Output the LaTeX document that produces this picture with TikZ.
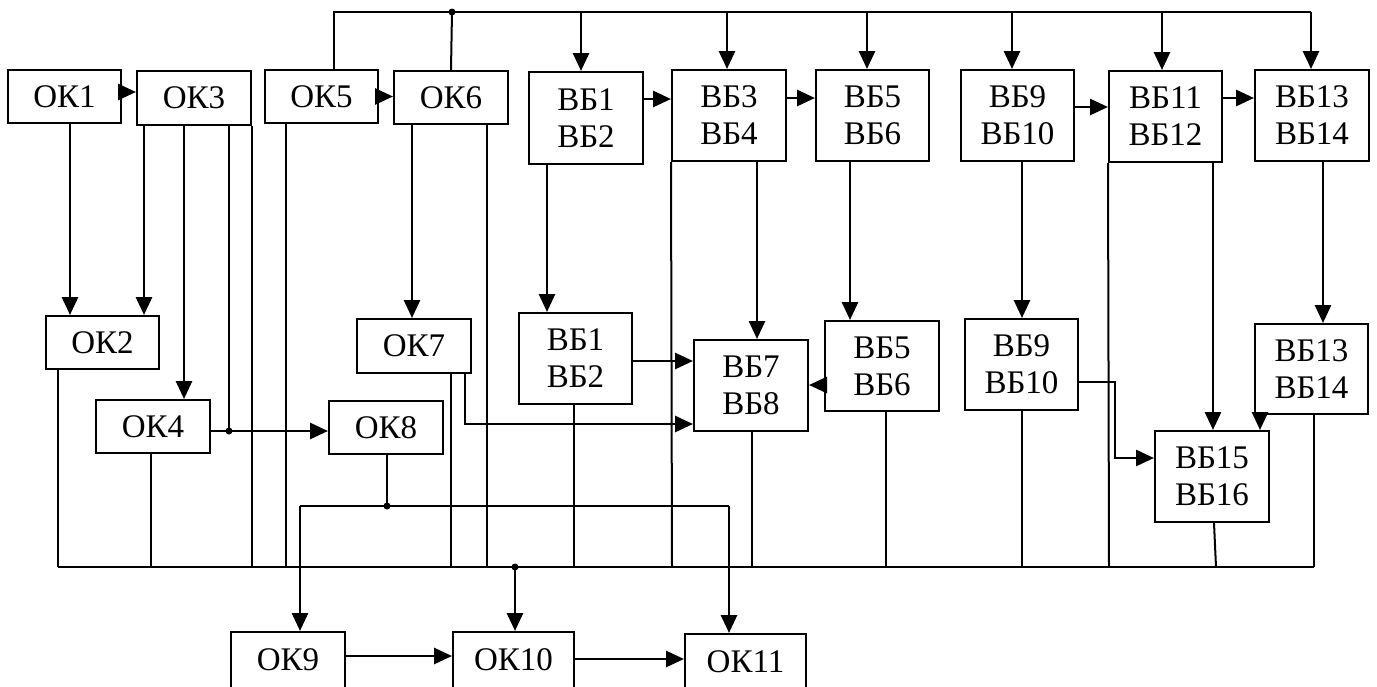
\documentclass[tikz,border=0pt]{standalone}
\usepackage{fontspec}
\setmainfont{Liberation Serif}
\usetikzlibrary{arrows.meta}
\tikzset{
  blk/.style={draw, line width=2pt, inner sep=0pt, align=center,
    font=\rmfamily\fontsize{33}{37}\selectfont},
  wire/.style={line width=2pt},
  arr/.style={line width=2.8pt, -{Triangle[length=18pt,width=16pt]}},
  jdot/.style={circle, fill, inner sep=0pt, minimum size=7pt}
}
\begin{document}
\begin{tikzpicture}[x=1pt,y=-1pt]
\useasboundingbox (0,0) rectangle (1377,686);
\clip (0,0) rectangle (1377,686);
% top row
\node[blk, minimum width=113pt, minimum height=53pt] (ok1) at (64.5,96.5) {ОК1};
\node[blk, minimum width=114pt, minimum height=54pt] (ok3) at (194,98) {ОК3};
\node[blk, minimum width=113pt, minimum height=53pt] (ok5) at (321.5,96.5) {ОК5};
\node[blk, minimum width=114pt, minimum height=53pt] (ok6) at (451,97.5) {ОК6};
\node[blk, minimum width=114pt, minimum height=92pt] (bb1) at (586,118) {ВБ1\\ВБ2};
\node[blk, minimum width=114pt, minimum height=91pt] (bb3) at (729,115.5) {ВБ3\\ВБ4};
\node[blk, minimum width=113pt, minimum height=91pt] (bb5) at (872.5,115.5) {ВБ5\\ВБ6};
\node[blk, minimum width=113pt, minimum height=91pt] (bb9) at (1017.5,115.5) {ВБ9\\ВБ10};
\node[blk, minimum width=113pt, minimum height=91pt] (bb11) at (1165.5,116.5) {ВБ11\\ВБ12};
\node[blk, minimum width=114pt, minimum height=91pt] (bb13) at (1312,115.5) {ВБ13\\ВБ14};
% middle row
\node[blk, minimum width=113pt, minimum height=53pt] (ok2) at (102.5,342.5) {ОК2};
\node[blk, minimum width=114pt, minimum height=53pt] (ok4) at (153,426.5) {ОК4};
\node[blk, minimum width=114pt, minimum height=54pt] (ok7) at (414,346) {ОК7};
\node[blk, minimum width=114pt, minimum height=53pt] (ok8) at (386,427.5) {ОК8};
\node[blk, minimum width=113pt, minimum height=91pt] (bb1b) at (575.5,358.5) {ВБ1\\ВБ2};
\node[blk, minimum width=114pt, minimum height=91pt] (bb7) at (751,385.5) {ВБ7\\ВБ8};
\node[blk, minimum width=114pt, minimum height=90pt] (bb5b) at (882,366) {ВБ5\\ВБ6};
\node[blk, minimum width=113pt, minimum height=91pt] (bb9b) at (1021.5,364.5) {ВБ9\\ВБ10};
\node[blk, minimum width=113pt, minimum height=90pt] (bb13b) at (1311.5,369) {ВБ13\\ВБ14};
\node[blk, minimum width=114pt, minimum height=91pt] (bb15) at (1212,476.5) {ВБ15\\ВБ16};
% bottom row
\node[blk, minimum width=114pt, minimum height=56pt] (ok9) at (288,660) {ОК9};
\node[blk, minimum width=121pt, minimum height=56pt] (ok10) at (513.5,660) {ОК10};
\node[blk, minimum width=121pt, minimum height=56pt] (ok11) at (745.5,662) {ОК11};
% junctions
\coordinate (tj) at (452,12);
\coordinate (j4) at (229,431);
\coordinate (j8) at (387,506);
\coordinate (jb) at (515,567);
\coordinate (busL) at (58,567);
\coordinate (busR) at (1314,567);
% top bus
\draw[wire] (ok5.north -| 334,0) |- (1311,12);
\draw[wire] (ok6.north) -- (tj);
\draw[arr] (581,12) -- (bb1.north -| 581,0);
\draw[arr] (727,12) -- (bb3.north -| 727,0);
\draw[arr] (867,12) -- (bb5.north -| 867,0);
\draw[arr] (1012,12) -- (bb9.north -| 1012,0);
\draw[arr] (1162,12) -- (bb11.north -| 1162,0);
\draw[arr] (1311,12) -- (bb13.north -| 1311,0);
% horizontal arrows top row
\draw[arr] (ok1.east |- 0,92) -- (ok3.west |- 0,92);
\draw[arr] (ok5.east) -- (ok6.west |- ok5.east);
\draw[arr] (bb1.east |- 0,99) -- (bb3.west |- 0,99);
\draw[arr] (bb3.east |- 0,98) -- (bb5.west |- 0,98);
\draw[arr] (bb9.east |- 0,107) -- (bb11.west |- 0,107);
\draw[arr] (bb11.east |- 0,98) -- (bb13.west |- 0,98);
% left group
\draw[arr] (ok1.south -| 70,0) -- (ok2.north -| 70,0);
\draw[arr] (ok3.south -| 144,0) -- (ok2.north -| 144,0);
\draw[arr] (ok3.south -| 184,0) -- (ok4.north -| 184,0);
\draw[wire] (ok3.south -| 229,0) -- (j4);
\draw[arr] (ok4.east |- j4) -- (ok8.west |- j4);
\draw[wire] (ok3.south east) -- (ok3.south east |- busL);
\draw[wire] (ok2.south -| 58,0) -- (busL);
\draw[wire] (ok4.south -| 151,0) -- (151,567);
\draw[wire] (ok5.south -| 286,0) -- (286,567);
\draw[arr] (ok6.south -| 412,0) -- (ok7.north -| 412,0);
\draw[wire] (ok6.south -| 487,0) -- (487,567);
\draw[wire] (ok7.south -| 451,0) -- (451,567);
\draw[arr] (ok7.south -| 465,0) |- (bb7.west |- 0,424);
\draw[wire] (ok8.south -| 387,0) -- (j8);
\draw[wire] (300,506) -- (729,506);
\draw[arr] (300,506) -- (ok9.north -| 300,0);
\draw[arr] (729,506) -- (ok11.north -| 729,0);
% BB group
\draw[arr] (bb1.south -| 547,0) -- (bb1b.north -| 547,0);
\draw[arr] (bb3.south -| 757,0) -- (bb7.north -| 757,0);
\draw[arr] (bb5.south -| 850,0) -- (bb5b.north -| 850,0);
\draw[arr] (bb1b.east |- 0,361) -- (bb7.west |- 0,361);
\draw[arr] (bb5b.west |- 0,385) -- (bb7.east |- 0,385);
\draw[wire] (bb3.south west) -- (672,567);
\draw[wire] (bb1b.south -| 574,0) -- (574,567);
\draw[wire] (bb7.south -| 752,0) -- (752,567);
\draw[wire] (bb5b.south -| 886,0) -- (886,567);
\draw[arr] (bb9.south -| 1022,0) -- (bb9b.north -| 1022,0);
\draw[wire] (bb9b.south -| 1022,0) -- (1022,567);
\draw[wire] (bb11.south west) -- (1109,567);
\draw[arr] (bb11.south -| 1213,0) -- (bb15.north -| 1213,0);
\draw[arr] (bb13.south -| 1323,0) -- (bb13b.north -| 1323,0);
\draw[arr] (bb9b.east |- 0,382) -- (1115,382) -- (1115,458) -- (bb15.west |- 0,458);
\draw[arr] (bb13b.south -| 1260,0) -- (bb15.north -| 1260,0);
\draw[wire] (bb15.south -| 1214,0) -- (1216,567);
\draw[wire] (bb13b.south -| 1314,0) -- (busR);
% bottom bus
\draw[wire] (busL) -- (busR);
\draw[arr] (jb) -- (ok10.north -| jb);
\draw[arr] (ok9.east |- 0,656) -- (ok10.west |- 0,656);
\draw[arr] (ok10.east |- 0,659) -- (ok11.west |- 0,659);
% dots
\node[jdot] at (tj) {};
\node[jdot] at (j4) {};
\node[jdot] at (j8) {};
\node[jdot] at (jb) {};
\end{tikzpicture}
\end{document}
